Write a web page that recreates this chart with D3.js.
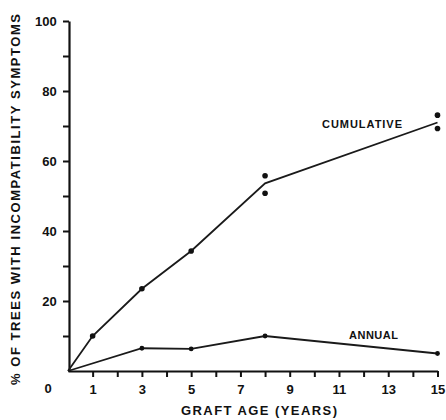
<!DOCTYPE html>
<html>
<head>
<meta charset="utf-8">
<script src="https://cdn.jsdelivr.net/npm/d3@7/dist/d3.min.js"></script>
<style>
  body { margin: 0; background: #fff; }
  text { font-family: "Liberation Sans", Arial, sans-serif; font-weight: bold; fill: #111; }
</style>
</head>
<body>
<script>
// graft age (years) and % of trees with symptoms
var cumYears = [0, 1, 3, 5, 8, 15];
var cumValues = [0, 10, 23.5, 34.3, 53.6, 71];
var cumDots = [1, 3, 5];
var extraYears = [8, 8, 15, 15];
var extraValues = [55.8, 50.8, 73.1, 69.3];
var annYears = [0, 3, 5, 8, 15];
var annValues = [0, 6.5, 6.3, 10, 5];
var xTicks = d3.range(1, 16);
var xLabels = [1, 3, 5, 7, 9, 11, 13, 15];
var yTicks = d3.range(10, 101, 10);
var yLabels = [20, 40, 60, 80, 100];

var width = 446, height = 420;
var svg = d3.select(document.body).append("svg")
    .attr("width", width)
    .attr("height", height);

var x = d3.scaleLinear().domain([0, 15]).range([68, 437.5]);
var y = d3.scaleLinear().domain([0, 100]).range([371, 21]);

// axes
var xAxis = svg.append("g")
    .attr("transform", "translate(0," + y(0) + ")")
    .call(d3.axisBottom(x).tickValues(xTicks).tickSize(6).tickSizeOuter(0)
        .tickFormat((d) => xLabels.includes(d) ? d : ""));
var yAxis = svg.append("g")
    .attr("transform", "translate(" + (x(0) + 1) + ",0)")
    .call(d3.axisLeft(y).tickValues(yTicks).tickSize(6).tickSizeOuter(0)
        .tickFormat((d) => yLabels.includes(d) ? d : ""));

[xAxis, yAxis].forEach((g) => {
  g.select(".domain").attr("stroke", "#111").attr("stroke-width", 2.2);
  g.selectAll(".tick line").attr("stroke", "#111").attr("stroke-width", 2);
  g.selectAll(".tick text")
    .attr("font-size", 13)
    .attr("font-family", "'Liberation Sans', Arial, sans-serif")
    .attr("font-weight", "bold")
    .attr("fill", "#111");
});
xAxis.selectAll(".tick text").attr("dy", "1.1em");
yAxis.selectAll(".tick text").attr("dx", "-0.25em");

svg.append("text")
    .attr("x", 48).attr("y", 393)
    .attr("text-anchor", "middle")
    .attr("font-size", 13)
    .text("0");

// lines
var line = d3.line().x((d) => x(d[0])).y((d) => y(d[1]));

svg.append("path")
    .datum(d3.zip(cumYears, cumValues))
    .attr("d", line)
    .attr("fill", "none")
    .attr("stroke", "#1a1a1a")
    .attr("stroke-width", 1.8);

svg.append("path")
    .datum(d3.zip(annYears, annValues))
    .attr("d", line)
    .attr("fill", "none")
    .attr("stroke", "#1a1a1a")
    .attr("stroke-width", 1.8);

// markers
svg.selectAll(".cumdot")
    .data(d3.zip(cumYears, cumValues).filter((d) => cumDots.includes(d[0])))
    .join("circle")
    .attr("cx", (d) => x(d[0]))
    .attr("cy", (d) => y(d[1]))
    .attr("r", 2.8)
    .attr("fill", "#111");

svg.selectAll(".extradot")
    .data(d3.zip(extraYears, extraValues))
    .join("circle")
    .attr("cx", (d) => x(d[0]))
    .attr("cy", (d) => y(d[1]))
    .attr("r", 2.8)
    .attr("fill", "#111");

svg.selectAll(".anndot")
    .data(d3.zip(annYears, annValues).slice(1))
    .join("circle")
    .attr("cx", (d) => x(d[0]))
    .attr("cy", (d) => y(d[1]))
    .attr("r", 2.4)
    .attr("fill", "#111");

// labels
svg.append("text")
    .attr("x", 322).attr("y", 128)
    .attr("font-size", 11)
    .attr("textLength", 80)
    .attr("lengthAdjust", "spacing")
    .text("CUMULATIVE");

svg.append("text")
    .attr("x", 349).attr("y", 339)
    .attr("font-size", 11)
    .attr("textLength", 49)
    .attr("lengthAdjust", "spacing")
    .text("ANNUAL");

svg.append("text")
    .attr("x", 181).attr("y", 415)
    .attr("font-size", 13)
    .attr("textLength", 156)
    .attr("lengthAdjust", "spacing")
    .text("GRAFT AGE (YEARS)");

svg.append("text")
    .attr("transform", "translate(20,385) rotate(-90)")
    .attr("font-size", 13)
    .attr("textLength", 371)
    .attr("lengthAdjust", "spacing")
    .text("% OF TREES WITH INCOMPATIBILITY SYMPTOMS");
</script>
</body>
</html>
